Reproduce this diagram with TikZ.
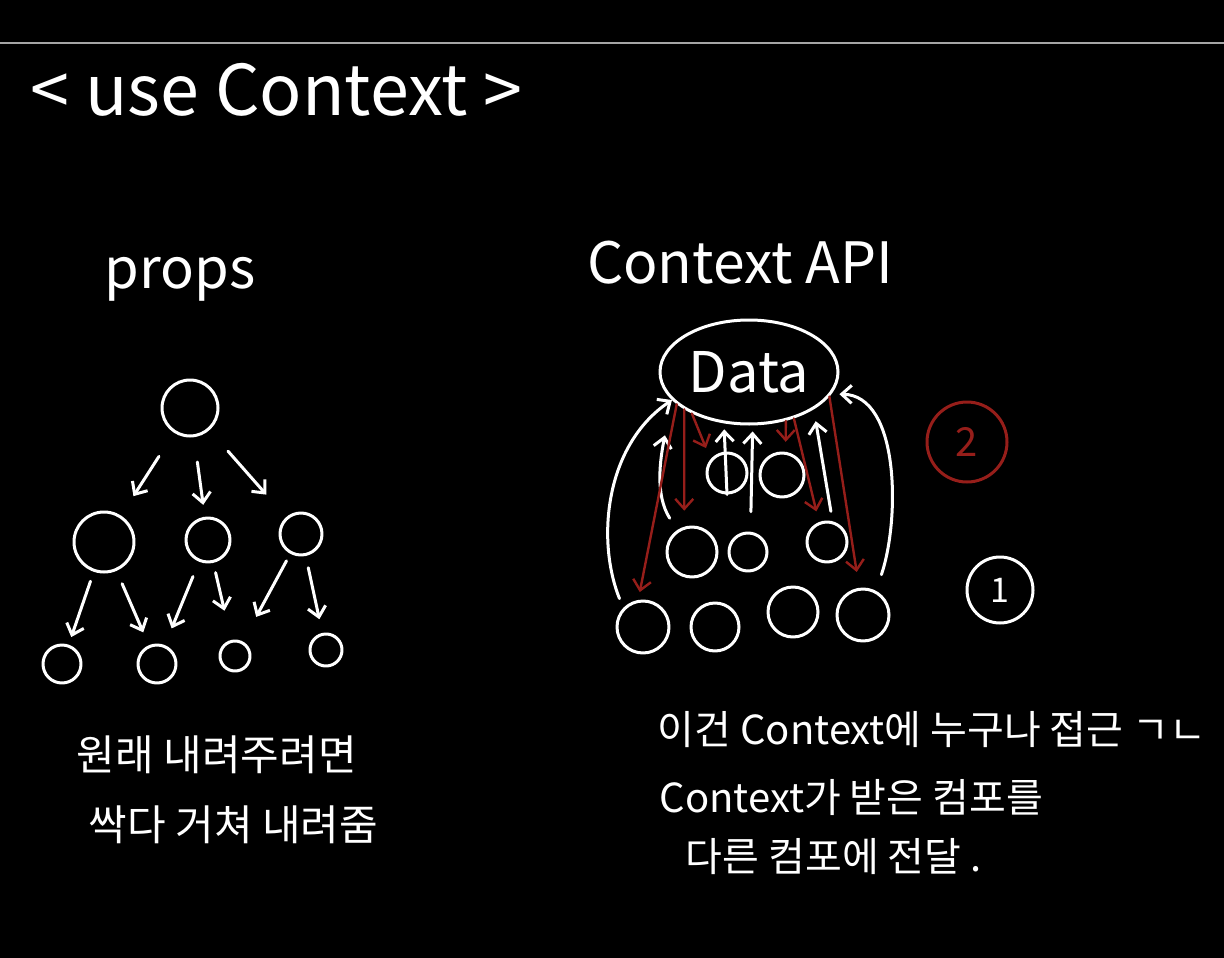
\documentclass[tikz,border=0pt]{standalone}
\usepackage{fontspec}
\usetikzlibrary{arrows.meta,shapes.geometric}
\newfontfamily\notefont{Noto Sans CJK KR}
\newcommand{\chalk}[1]{\notefont\fontsize{#1}{#1}\selectfont}
\definecolor{inkred}{RGB}{150,30,26}
\definecolor{rulegrey}{RGB}{165,165,165}

\begin{document}
\begin{tikzpicture}[x=1pt,y=-1pt,line width=3pt,line cap=round,line join=round,
  >={Straight Barb[length=10pt,width=18pt]},
  every node/.style={text=white,font=\notefont},
  bubble/.style={circle,draw=white,inner sep=0pt},
  pass/.style={->,draw=white},
  send/.style={->,draw=inkred,line width=2.4pt}]
% ---------- sheet: black page + grey rule on top ----------
\useasboundingbox (0,0) rectangle (1224,958);
\fill[black] (0,0) rectangle (1224,958);
\draw[rulegrey,line width=1.2pt] (0,43) -- (1224,43);
\node[anchor=west,font=\chalk{70}] (title) at (26,90) {< use Context >};
% ---------- (left) props: handed down level by level ----------
\node[anchor=base,font=\chalk{56}] (props) at (180,288) {props};
\node[bubble,minimum size=56pt] (root) at (190,408) {};
\node[bubble,minimum size=60pt] (pa) at (104,542) {};
\node[bubble,minimum size=44pt] (pb) at (208,540) {};
\node[bubble,minimum size=42pt] (pc) at (301,534) {};
\node[bubble,minimum size=38pt] (qa) at (62,664) {};
\node[bubble,minimum size=38pt] (qb) at (157,664) {};
\node[bubble,minimum size=30pt] (qc) at (235,656) {};
\node[bubble,minimum size=32pt] (qd) at (326,650) {};
\draw[pass,shorten <=28pt,shorten >=23pt] (root) -- (pa);
\draw[pass,shorten <=25pt,shorten >=12pt] (root) -- (pb);
\draw[pass,shorten <=28pt,shorten >=30pt] (root) -- (pc);
\draw[pass,shorten <=10pt,shorten >=8pt] (pa) -- (qa);
\draw[pass,shorten <=14pt,shorten >=14pt] (pa) -- (qb);
\draw[pass,shorten <=16pt,shorten >=18pt] (pb) -- (qb);
\draw[pass,shorten <=10pt,shorten >=30pt] (pb) -- (qc);
\draw[pass,shorten <=8pt,shorten >=28pt] (pc) -- (qc);
\draw[pass,shorten <=12pt,shorten >=14pt] (pc) -- (qd);
\node[anchor=west,font=\chalk{42}] (noteA) at (72,755) {원래 내려주려면};
\node[anchor=west,font=\chalk{42}] (noteB) at (84,825) {싹다 거쳐 내려줌};
% ---------- (right) Context API: one store, everyone reaches it ----------
\node[anchor=base,font=\chalk{57}] (api) at (740,283) {Context API};
\node[ellipse,draw=white,minimum width=178pt,minimum height=104pt,inner sep=0pt,font=\chalk{56}] (Data) at (749,372) {Data};
\node[bubble,minimum size=40pt] (c1) at (727,473) {};
\node[bubble,minimum size=44pt] (c2) at (782,475) {};
\node[bubble,minimum size=50pt] (d1) at (692,552) {};
\node[bubble,minimum size=38pt] (d2) at (748,552) {};
\node[bubble,minimum size=40pt] (d3) at (827,542) {};
\node[bubble,minimum size=52pt] (e1) at (643,627) {};
\node[bubble,minimum size=48pt] (e2) at (715,627) {};
\node[bubble,minimum size=50pt] (e3) at (793,612) {};
\node[bubble,minimum size=52pt] (e4) at (863,615) {};
% white: up to Data
\draw[pass,shorten <=10pt] (e1.136) .. controls (596,540) and (605,445) .. (Data.200);
\draw[pass,shorten <=14pt,shorten >=36pt] (d1.124) .. controls (655,495) and (660,460) .. (Data.200);
\draw[pass,shorten >=6pt] (c1.south) -- (Data.244);
\draw[pass,shorten <=20pt,shorten >=6pt] (d2.83) -- (Data.274);
\draw[pass,shorten <=10pt,shorten >=12pt] (d3.75) -- (Data.330);
\draw[pass,shorten <=17pt,shorten >=8pt] (e4.62) .. controls (900,520) and (900,395) .. (Data.345);
% red: down from Data
\draw[send,shorten >=8pt] (Data.204) -- (e1.100);
\draw[send,shorten >=16pt] (Data.210) -- (d1.107);
\draw[send,shorten >=12pt] (Data.216) -- (c1.140);
\draw[send,shorten >=10pt] (Data.307) -- (c2.81);
\draw[send,shorten >=11pt] (Data.314) -- (d3.112);
\draw[send,shorten >=16pt] (Data.343) -- (e4.98);
\node[circle,draw=inkred,text=inkred,minimum size=80pt,inner sep=0pt,font=\chalk{40}] (two) at (967,442) {2};
\node[bubble,minimum size=66pt,font=\chalk{34}] (one) at (1000,590) {1};
\node[anchor=west,font=\chalk{40}] (noteC) at (653,730) {이건 Context에 누구나 접근 ㄱㄴ};
\node[anchor=west,font=\chalk{40}] (noteD) at (655,797) {Context가 받은 컴포를};
\node[anchor=west,font=\chalk{40}] (noteE) at (681,857) {다른 컴포에 전달 .};
\end{tikzpicture}
\end{document}
